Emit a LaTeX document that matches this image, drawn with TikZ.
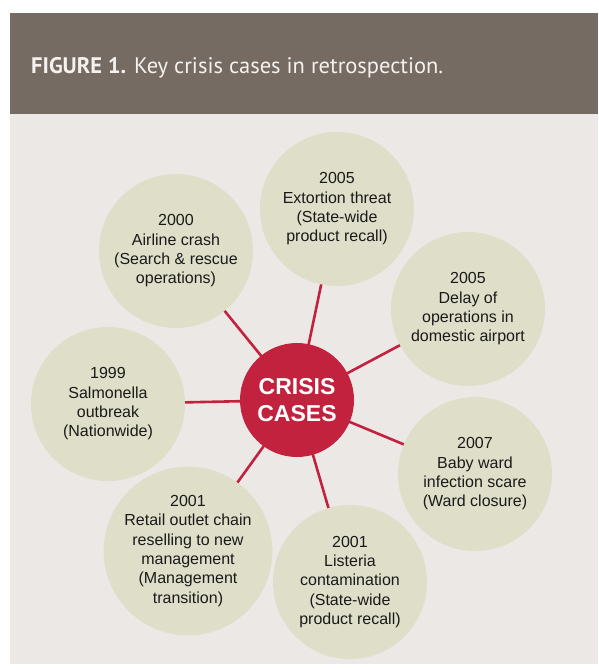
\documentclass[tikz,border=0pt]{standalone}
\usepackage{fontspec}
\setmainfont{Liberation Sans}
\newfontfamily\headfont{PT Sans}
\usetikzlibrary{backgrounds}
\definecolor{bandbrown}{HTML}{766B62}
\definecolor{panelgrey}{HTML}{ECE8E5}
\definecolor{casefill}{HTML}{DFDEC9}
\definecolor{crisisred}{HTML}{C3223F}
\definecolor{headtext}{HTML}{F4F1EE}
\definecolor{casetext}{HTML}{1A1A1A}
\begin{document}
\begin{tikzpicture}[x=1pt,y=-1pt,
  casebubble/.style={circle, fill=casefill, minimum size=154pt, inner sep=0pt,
    align=center, text=casetext, font=\fontsize{16}{19.3}\selectfont},
  hubbubble/.style={circle, fill=crisisred, minimum size=114pt, inner sep=0pt,
    align=center, text=white, font=\bfseries\fontsize{23}{27}\selectfont},
  spoke/.style={draw=crisisred, line width=2.6pt}]
\useasboundingbox (0,0) rectangle (598,670);

% title
\node[anchor=base west, inner sep=0pt, text=headtext,
      font=\headfont\fontsize{22.5}{26}\selectfont] (title) at (31,73)
  {\textbf{FIGURE 1.} Key crisis cases in retrospection.};

% hub and cases
\node[hubbubble] (hub) at (297,400) {CRISIS\\CASES};
\node[casebubble] (extortion) at (337,209) {2005\\Extortion threat\\(State-wide\\product recall)};
\node[casebubble] (airline) at (176,251) {2000\\Airline crash\\(Search \& rescue\\operations)};
\node[casebubble] (delay) at (468,309) {2005\\Delay of\\operations in\\domestic airport};
\node[casebubble] (salmonella) at (108,404) {1999\\Salmonella\\outbreak\\(Nationwide)};
\node[casebubble] (babyward) at (475,474) {2007\\Baby ward\\infection scare\\(Ward closure)};
\node[casebubble] (retail) at (188,551) {2001\\Retail outlet chain\\reselling to new\\management\\(Management\\transition)};
\node[casebubble] (listeria) at (350,582) {2001\\Listeria\\contamination\\(State-wide\\product recall)};

\begin{scope}[on background layer]
  \fill[panelgrey] (10,13) rectangle (598,664);
  \fill[bandbrown] (10,13) rectangle (598,114);
  \foreach \c in {extortion,airline,delay,salmonella,babyward,retail,listeria}
    \draw[spoke] (hub.center) -- (\c.center);
\end{scope}
\end{tikzpicture}
\end{document}
